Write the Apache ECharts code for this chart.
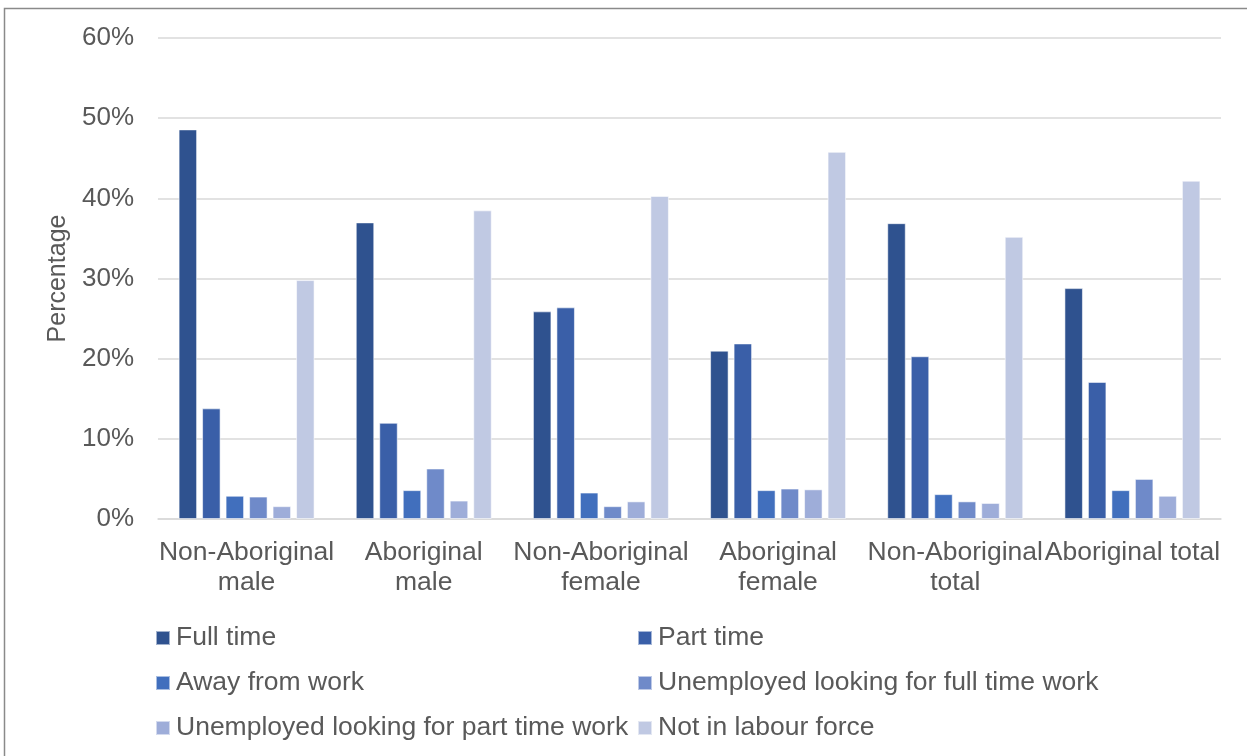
<!DOCTYPE html>
<html>
<head>
<meta charset="utf-8">
<script src="https://cdn.jsdelivr.net/npm/echarts@6/dist/echarts.min.js"></script>
<style>
  html, body { margin: 0; padding: 0; background: #ffffff; }
  #chart { width: 1247px; height: 756px; }
</style>
</head>
<body>
<div id="chart"></div>
<script>
// Labour force status by population group (percent of group)
const categories = [
  'Non-Aboriginal\nmale',
  'Aboriginal\nmale',
  'Non-Aboriginal\nfemale',
  'Aboriginal\nfemale',
  'Non-Aboriginal\ntotal',
  'Aboriginal total'
];

const seriesNames = [
  'Full time',
  'Part time',
  'Away from work',
  'Unemployed looking for full time work',
  'Unemployed looking for part time work',
  'Not in labour force'
];

const fullTime      = [48.6, 37.0, 25.9, 21.0, 36.9, 28.8];
const partTime      = [13.8, 12.0, 26.4, 21.9, 20.3, 17.1];
const awayFromWork  = [2.9, 3.6, 3.3, 3.6, 3.1, 3.6];
const unempFullTime = [2.8, 6.3, 1.6, 3.8, 2.2, 5.0];
const unempPartTime = [1.6, 2.3, 2.2, 3.7, 2.0, 2.9];
const notInLabour   = [29.8, 38.5, 40.3, 45.8, 35.2, 42.2];

const yTicks = [0, 10, 20, 30, 40, 50, 60];

const values = [fullTime, partTime, awayFromWork, unempFullTime, unempPartTime, notInLabour];
const colors = ['#2f528f', '#3a5fa8', '#416fbd', '#6f8ac9', '#9eadd9', '#c0c9e3'];

const FONT = '"Liberation Sans", Arial, sans-serif';
const TEXT = '#595959';
const FS = 26.5;

const chart = echarts.init(document.getElementById('chart'), null, { renderer: 'canvas' });

const series = seriesNames.map((name, i) => ({
  name: name,
  type: 'bar',
  data: values[i],
  barWidth: 18.5,
  barGap: '27%',
  itemStyle: { color: colors[i], borderColor: 'rgba(255,255,255,0.55)', borderWidth: 1 },
  emphasis: { disabled: true },
  animation: false
}));

const legendCommon = {
  orient: 'vertical',
  icon: 'rect',
  itemWidth: 14,
  itemHeight: 14,
  itemGap: 15,
  top: 618,
  textStyle: { fontFamily: FONT, fontSize: FS, color: TEXT, lineHeight: 30, padding: [0, 0, 0, 1] },
  selectedMode: false
};

chart.setOption({
  animation: false,
  backgroundColor: '#ffffff',
  textStyle: { fontFamily: FONT },
  graphic: [{
    type: 'rect',
    shape: { x: 4.5, y: 8.5, width: 1300, height: 800 },
    style: { fill: 'none', stroke: '#8a8a8a', lineWidth: 1.5 },
    silent: true
  }],
  grid: { left: 158, right: 26, top: 38, bottom: 237, containLabel: false },
  legend: [
    Object.assign({}, legendCommon, { left: 150, data: [seriesNames[0], seriesNames[2], seriesNames[4]] }),
    Object.assign({}, legendCommon, { left: 632, data: [seriesNames[1], seriesNames[3], seriesNames[5]] })
  ],
  xAxis: {
    type: 'category',
    data: categories,
    axisLine: { show: true, lineStyle: { color: '#d9d9d9', width: 1.5 } },
    axisTick: { show: false },
    axisLabel: {
      interval: 0,
      hideOverlap: false,
      margin: 19,
      fontFamily: FONT,
      fontSize: FS,
      lineHeight: 30,
      color: TEXT,
      align: 'center'
    }
  },
  yAxis: {
    type: 'value',
    min: yTicks[0],
    max: yTicks[yTicks.length - 1],
    interval: yTicks[1] - yTicks[0],
    name: 'Percentage',
    nameLocation: 'middle',
    nameGap: 82,
    nameRotate: 90,
    nameTextStyle: { fontFamily: FONT, fontSize: 25, color: TEXT },
    axisLine: { show: false },
    axisTick: { show: false },
    axisLabel: {
      margin: 24,
      fontFamily: FONT,
      fontSize: 26,
      color: TEXT,
      formatter: v => v + '%'
    },
    splitLine: { show: true, lineStyle: { color: '#d9d9d9', width: 1.5 } }
  },
  series: series
});
</script>
</body>
</html>
